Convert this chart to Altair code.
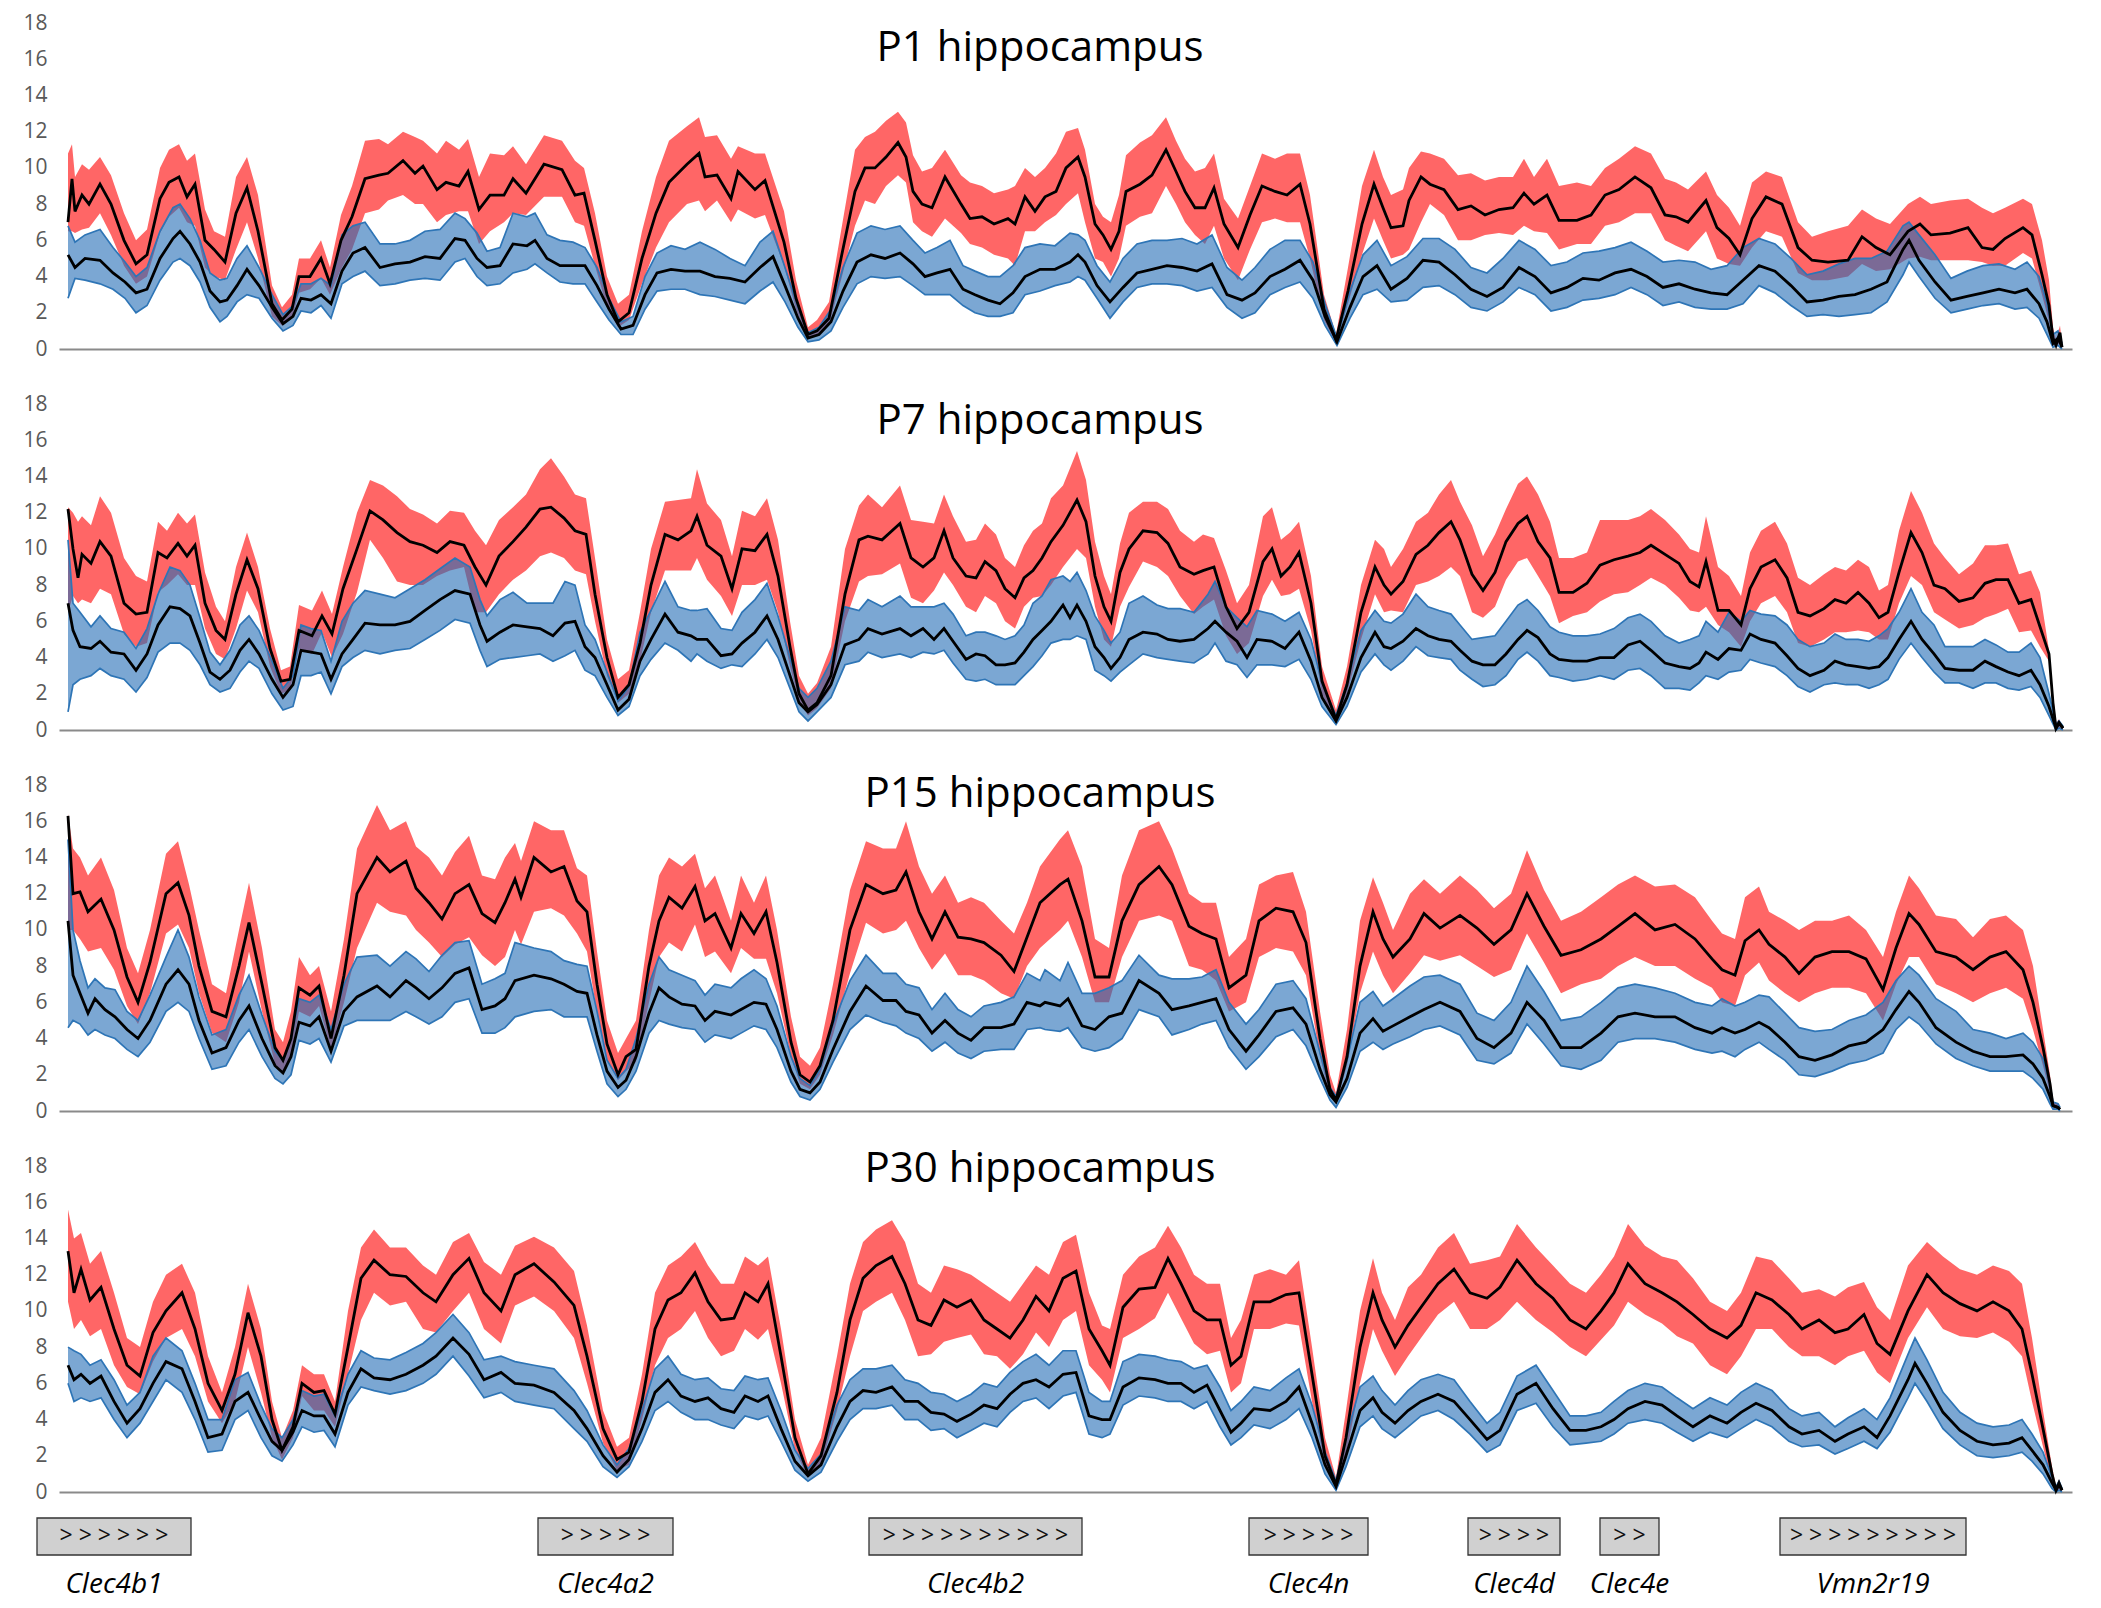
import altair as alt
import pandas as pd

TITLES = ["P1 hippocampus", "P7 hippocampus", "P15 hippocampus", "P30 hippocampus"]
Y_TICKS = [0, 2, 4, 6, 8, 10, 12, 14, 16, 18]
X_DOMAIN = [64, 2077]

# rows: (position, mean, lower, upper)
P1_RED = [(73,7.0,6.5,10.8),(77,9.4,6.5,11.3),(80,7.6,6.4,9.5),(87,8.5,6.6,10.2),(94,8.0,6.7,9.9),(105,9.1,7.5,10.6),(116,8.0,6.3,9.6),(129,6.0,4.6,7.5),(141,4.7,3.6,6.0),(152,5.2,4.0,6.6),(165,8.3,6.4,10.0),(174,9.2,7.3,11.0),(184,9.5,7.8,11.3),(192,8.4,7.0,10.4),(200,9.1,6.8,10.8),(210,6.0,4.5,7.7),(219,5.5,4.0,6.5),(230,4.8,3.8,6.2),(241,7.5,5.5,9.5),(252,8.9,7.0,10.6),(263,6.5,5.0,8.5),(277,2.5,1.8,3.5),(287,1.6,1.3,2.3),(297,2.2,1.7,3.0),(304,4.0,3.1,5.0),(315,4.0,3.3,5.0),(326,5.0,3.9,6.0),(335,3.6,3.0,4.5),(346,6.0,4.4,7.4),(357,7.3,5.5,9.0),(370,9.4,7.5,11.5),(384,9.6,7.7,11.6),(393,9.7,8.2,11.3),(408,10.4,8.5,12.0),(420,9.7,8.0,11.7),(428,10.1,8.0,11.5),(442,8.8,7.0,10.8),(451,9.2,7.4,11.5),(464,9.0,7.6,11.0),(473,9.8,7.6,11.6),(484,7.7,5.8,9.5),(495,8.5,6.5,10.8),(509,8.5,7.0,10.7),(518,9.4,7.5,11.2),(531,8.6,7.4,10.2),(549,10.2,8.4,11.8),(567,9.9,8.4,11.5),(580,8.5,7.0,10.4),(589,8.6,6.8,10.0),(600,6.0,4.6,7.5),(612,3.0,2.3,4.0),(623,1.5,1.2,2.5),(634,2.0,1.6,3.0),(647,5.0,3.6,6.5),(661,7.5,5.6,9.5),(674,9.2,7.0,11.5),(692,10.2,8.0,12.3),(704,10.8,8.2,12.8),(710,9.5,7.6,11.7),(722,9.6,8.2,11.8),(736,8.3,7.0,10.5),(743,9.8,7.7,11.2),(760,8.8,7.2,10.8),(770,9.3,7.4,10.8),(789,5.9,4.6,7.6),(801,2.8,2.2,3.8),(813,0.8,0.6,1.2),(822,1.0,0.8,1.6),(834,1.7,1.3,2.6),(846,5.0,3.8,6.5),(860,8.7,6.8,11.0),(870,10.0,8.2,11.7),(880,10.0,8.0,12.0),(891,10.6,9.0,12.6),(903,11.4,9.6,13.1),(911,10.6,9.2,12.5),(918,8.7,7.0,10.7),(927,8.0,6.5,9.8),(937,7.8,6.2,10.0),(950,9.5,7.2,11.0),(966,8.0,6.4,9.6),(975,7.2,5.8,9.2),(987,7.3,5.6,9.0),(999,6.9,5.2,8.6),(1013,7.2,5.0,8.8),(1020,6.9,4.6,9.0),(1030,8.4,6.5,10.0),(1040,7.6,6.5,9.5),(1050,8.4,7.0,10.0),(1061,8.7,7.4,10.8),(1071,10.0,8.0,12.0),(1083,10.6,8.6,12.2),(1090,9.5,7.0,11.0),(1100,6.9,5.0,8.0),(1108,6.3,4.8,7.3),(1116,5.5,4.0,7.0),(1124,6.5,5.0,8.5),(1131,8.7,6.8,10.7),(1145,9.1,7.3,11.4),(1157,9.6,7.5,11.8),(1171,11.0,9.0,12.8),(1181,9.8,8.0,11.5),(1190,8.7,7.0,10.5),(1200,7.8,6.3,9.8),(1210,7.8,5.8,10.0),(1219,8.9,6.8,10.8),(1229,6.9,5.0,8.3),(1243,5.6,3.8,7.2),(1255,7.4,5.5,9.0),(1267,9.0,7.0,10.8),(1280,8.7,7.2,10.5),(1292,8.5,7.0,10.8),(1305,9.1,7.0,10.8),(1315,6.9,5.0,8.5),(1329,2.2,1.6,3.0),(1341,0.5,0.3,0.8),(1353,3.2,2.5,4.5),(1367,6.9,5.2,9.0),(1379,9.1,7.2,11.0),(1388,7.8,6.0,9.5),(1396,6.7,5.0,8.5),(1408,6.8,5.2,8.8),(1414,8.2,5.5,10.0),(1426,9.5,7.0,10.9),(1435,9.1,8.0,10.8),(1449,8.8,7.4,10.5),(1463,7.7,6.0,9.6),(1476,7.9,6.0,9.7),(1490,7.4,6.3,9.3),(1504,7.7,6.4,9.5),(1518,7.8,6.3,9.5),(1529,8.6,6.8,10.5),(1539,8.0,6.5,9.5),(1552,8.5,6.4,10.5),(1564,7.1,5.5,9.0),(1582,7.1,5.8,9.2),(1596,7.4,5.8,9.0),(1610,8.5,6.8,10.0),(1624,8.8,7.0,10.5),(1640,9.5,7.5,11.2),(1656,8.9,7.5,10.8),(1670,7.4,6.0,9.4),(1681,7.3,5.7,9.2),(1693,7.0,5.4,8.8),(1711,8.2,6.5,9.8),(1722,6.7,5.0,8.5),(1734,6.1,4.7,7.8),(1745,5.2,4.6,6.8),(1757,7.2,5.6,9.2),(1771,8.4,6.5,9.8),(1787,8.0,6.2,9.5),(1803,5.6,4.2,7.0),(1817,4.9,3.8,6.2),(1833,4.8,3.8,6.5),(1853,4.9,4.0,6.8),(1867,6.2,4.7,7.7),(1881,5.6,4.3,7.2),(1895,5.2,4.4,6.9),(1913,6.5,5.0,8.0),(1925,6.9,5.1,8.4),(1936,6.3,4.9,8.0),(1955,6.4,4.9,8.2),(1973,6.7,4.9,8.3),(1987,5.6,4.8,7.8),(1998,5.5,4.6,7.5),(2010,6.1,4.6,7.8),(2028,6.7,5.3,8.3),(2037,6.3,5.0,8.0),(2047,4.1,3.0,6.0),(2054,2.4,1.5,3.8),(2058,0.6,0.3,1.2),(2061,0.2,0.1,0.5),(2065,0.9,0.4,1.3),(2067,0.1,0.0,0.3)]

P1_BLUE = [(73,5.2,2.8,6.8),(80,4.5,3.9,5.9),(90,5.0,3.8,6.3),(105,4.9,3.6,6.6),(118,4.2,3.3,5.6),(130,3.7,2.8,4.8),(141,3.1,2.0,4.0),(152,3.3,2.4,4.5),(165,5.0,3.8,6.5),(178,6.1,4.8,7.8),(185,6.5,5.0,8.0),(195,5.8,4.6,7.2),(205,4.8,3.7,6.0),(215,3.2,2.3,4.2),(225,2.6,1.5,3.8),(232,2.7,1.8,3.9),(242,3.5,2.6,5.0),(252,4.4,3.0,5.7),(264,3.5,2.8,4.5),(277,2.3,1.7,3.0),(288,1.4,1.0,1.9),(298,1.8,1.3,2.4),(306,2.8,2.1,3.6),(316,2.7,2.0,3.6),(326,3.0,2.4,3.9),(336,2.5,1.7,3.5),(347,4.3,3.6,6.3),(358,5.3,4.0,6.8),(370,5.6,4.3,7.0),(385,4.5,3.5,5.8),(400,4.7,3.6,5.8),(415,4.8,3.8,6.0),(430,5.1,3.9,6.5),(445,5.0,3.8,6.6),(460,6.1,4.8,7.5),(470,6.0,5.0,7.2),(482,5.0,4.0,6.4),(492,4.5,3.5,5.4),(505,4.6,3.6,5.6),(518,5.8,4.2,7.5),(532,5.7,4.4,7.3),(540,6.0,4.7,7.5),(552,5.0,4.2,6.3),(565,4.6,3.7,6.0),(578,4.6,3.6,5.9),(590,4.6,3.6,5.6),(602,3.5,2.6,4.5),(614,2.2,1.6,2.8),(626,1.1,0.8,1.5),(638,1.3,0.8,1.8),(650,3.0,2.2,4.0),(662,4.2,3.2,5.3),(676,4.4,3.3,5.7),(690,4.3,3.3,5.5),(705,4.3,3.0,5.9),(720,4.0,2.9,5.5),(735,3.9,2.7,5.0),(750,3.7,2.5,4.6),(765,4.5,3.2,5.9),(778,5.1,3.7,6.5),(790,3.5,2.6,4.5),(803,1.7,1.2,2.3),(813,0.6,0.4,0.9),(824,0.8,0.5,1.2),(836,1.5,1.0,2.2),(848,3.2,2.3,4.5),(862,4.8,3.6,6.4),(876,5.2,4.0,6.8),(890,5.0,3.9,6.6),(905,5.3,4.0,6.8),(918,4.7,3.5,6.0),(930,4.0,3.0,5.3),(942,4.2,3.0,5.6),(955,4.4,3.0,6.0),(968,3.3,2.4,4.6),(980,3.0,2.0,4.3),(993,2.7,1.8,4.0),(1005,2.5,1.8,4.0),(1018,3.1,2.0,4.6),(1030,4.0,3.0,5.6),(1045,4.4,3.2,5.8),(1060,4.4,3.5,5.7),(1075,4.8,3.7,6.4),(1083,5.2,4.0,6.3),(1090,4.8,3.8,6.0),(1102,3.5,2.8,4.6),(1115,2.6,1.7,3.7),(1128,3.4,2.6,5.0),(1142,4.2,3.4,5.8),(1157,4.4,3.6,6.0),(1172,4.6,3.6,6.0),(1187,4.5,3.5,6.1),(1202,4.3,3.2,5.8),(1217,4.7,3.4,6.3),(1232,3.0,2.3,4.5),(1247,2.7,1.7,3.8),(1260,3.1,2.0,4.5),(1275,4.0,3.0,5.5),(1290,4.4,3.4,6.0),(1305,4.9,3.7,6.0),(1318,3.8,2.8,4.8),(1330,1.8,1.3,2.5),(1342,0.4,0.2,0.6),(1355,2.3,1.7,3.2),(1368,4.0,3.0,5.2),(1382,4.6,3.3,6.0),(1396,3.3,2.6,4.6),(1412,3.9,2.7,5.1),(1428,4.9,3.4,6.1),(1444,4.8,3.5,6.1),(1460,4.1,3.0,5.5),(1476,3.3,2.3,4.5),(1492,2.9,2.1,4.2),(1508,3.4,2.6,5.0),(1524,4.5,3.4,6.0),(1540,4.0,3.0,5.5),(1556,3.1,2.1,4.6),(1572,3.4,2.3,4.8),(1588,3.9,2.7,5.3),(1604,3.8,2.8,5.4),(1620,4.2,3.0,5.6),(1636,4.4,3.4,5.9),(1652,4.0,3.0,5.4),(1668,3.4,2.4,4.8),(1684,3.6,2.6,4.9),(1700,3.3,2.3,4.8),(1716,3.1,2.2,4.4),(1732,3.0,2.2,4.6),(1748,3.8,2.5,5.6),(1764,4.6,3.5,6.1),(1780,4.3,3.1,5.8),(1796,3.5,2.4,5.0),(1812,2.6,1.8,4.1),(1828,2.7,1.9,4.3),(1844,2.9,1.8,4.7),(1860,3.0,1.9,5.0),(1876,3.3,2.0,5.0),(1892,3.7,2.6,5.4),(1908,5.5,4.1,6.8),(1914,6.0,4.8,7.0),(1924,4.9,4.0,6.3),(1940,3.7,2.8,5.2),(1956,2.7,2.0,3.9),(1972,2.9,2.2,4.3),(1988,3.1,2.4,4.6),(2004,3.3,2.5,4.7),(2020,3.1,2.2,4.4),(2032,3.3,2.3,4.8),(2044,2.5,1.7,4.0),(2052,1.5,0.8,2.5),(2058,0.3,0.1,0.8),(2063,0.6,0.2,1.0),(2067,0.1,0.0,0.3)]

P2_RED = [(73,12.2,6.5,12.3),(78,10.0,7.4,12.0),(83,8.4,7.0,11.5),(87,9.7,7.2,11.8),(96,9.2,7.0,11.3),(105,10.4,7.8,12.9),(116,9.6,7.5,12.0),(129,7.0,5.3,9.5),(141,6.4,4.6,8.5),(152,6.5,4.8,8.2),(163,9.8,7.6,11.5),(172,9.5,8.0,11.0),(183,10.3,8.6,12.0),(192,9.6,8.0,11.4),(200,10.2,8.0,11.9),(210,7.0,5.6,8.7),(221,5.5,4.2,6.8),(230,5.0,3.9,6.0),(241,7.5,5.6,9.0),(252,9.4,7.7,10.9),(263,7.8,6.5,9.0),(275,4.5,3.5,5.6),(286,2.7,2.0,3.3),(295,2.8,2.2,3.5),(304,5.5,4.5,6.9),(317,5.2,4.2,6.6),(327,6.3,5.4,7.7),(337,5.3,4.0,6.4),(348,7.8,5.3,9.0),(362,10.0,7.6,12.0),(375,12.1,10.5,13.8),(388,11.6,9.5,13.5),(402,10.9,8.2,12.9),(415,10.4,8.0,12.2),(428,10.2,8.0,11.9),(442,9.8,8.5,11.4),(455,10.4,8.8,12.1),(469,10.2,9.0,12.0),(480,9.0,6.5,11.0),(491,8.0,6.5,10.2),(504,9.6,7.5,11.6),(518,10.4,8.3,12.3),(531,11.2,8.8,13.0),(545,12.2,9.6,14.4),(556,12.3,9.8,15.0),(569,11.7,9.5,14.0),(580,11.0,8.8,13.0),(591,10.8,8.6,12.8),(600,7.5,6.0,9.5),(612,4.0,3.0,5.0),(623,1.8,1.5,2.8),(634,2.5,2.0,3.3),(645,4.8,3.8,6.5),(656,8.0,6.5,10.0),(670,10.8,8.8,12.6),(683,10.5,8.8,12.7),(696,11.0,8.8,12.8),(702,11.8,9.5,14.4),(712,10.2,8.3,12.5),(726,9.6,7.4,11.6),(737,7.8,6.3,9.6),(747,10.0,8.0,12.1),(760,9.9,8.0,11.8),(772,10.8,8.3,12.8),(783,8.5,6.5,10.5),(795,4.6,3.5,6.0),(804,2.0,1.6,3.0),(813,1.1,0.8,2.0),(822,1.5,1.2,2.6),(836,3.0,2.3,4.6),(850,7.5,6.0,10.0),(864,10.5,8.2,12.4),(873,10.7,8.5,13.0),(887,10.5,8.6,12.3),(905,11.4,9.2,13.5),(916,9.5,7.3,11.6),(928,9.0,7.0,11.5),(939,9.5,7.7,11.4),(949,11.0,8.7,13.0),(958,9.5,8.0,11.8),(971,8.5,6.8,10.4),(981,8.4,6.5,10.5),(990,9.3,7.4,11.4),(1001,8.8,7.0,10.8),(1010,7.8,6.0,9.5),(1020,7.3,5.6,9.0),(1029,8.4,6.8,10.2),(1038,8.8,7.3,11.0),(1047,9.5,7.4,11.4),(1056,10.4,8.0,12.8),(1068,11.3,9.0,13.5),(1082,12.7,10.0,15.4),(1091,11.5,9.5,13.8),(1100,8.5,6.8,10.4),(1109,6.8,5.0,8.5),(1116,6.0,4.6,7.5),(1125,8.7,6.8,10.3),(1134,10.0,7.9,12.0),(1148,11.0,9.3,12.6),(1162,10.9,9.0,12.6),(1173,10.3,8.5,12.2),(1185,9.0,7.4,11.0),(1199,8.6,6.4,10.4),(1208,8.8,6.8,10.8),(1219,9.0,7.2,10.6),(1231,6.8,5.2,8.8),(1242,5.6,4.2,7.0),(1254,6.5,4.8,8.0),(1268,9.3,7.4,11.8),(1277,10.0,8.3,12.3),(1286,8.5,7.4,10.5),(1295,9.0,7.5,10.9),(1304,9.8,7.8,11.5),(1316,7.0,5.5,8.5),(1327,2.7,2.0,3.5),(1341,0.6,0.4,1.1),(1352,2.5,2.0,3.5),(1366,6.5,5.0,8.0),(1380,9.0,7.5,10.5),(1389,8.0,6.5,10.0),(1396,7.5,6.6,9.0),(1408,8.2,6.5,10.0),(1421,9.7,8.0,11.5),(1433,10.2,8.2,12.0),(1444,10.9,8.5,13.0),(1456,11.5,9.0,13.8),(1465,10.5,8.5,12.6),(1477,8.6,6.5,11.3),(1488,7.7,6.2,9.6),(1500,8.7,6.8,10.8),(1511,10.4,8.3,12.2),(1523,11.4,9.3,13.6),(1532,11.8,9.5,14.0),(1543,10.4,8.5,13.0),(1555,9.5,7.4,11.5),(1564,7.6,5.9,9.5),(1578,7.6,6.3,9.5),(1592,8.1,6.5,9.8),(1605,9.1,7.1,11.6),(1619,9.4,7.5,11.6),(1633,9.6,7.6,11.6),(1645,9.8,8.0,11.8),(1656,10.2,8.4,12.2),(1670,9.7,8.0,11.6),(1684,9.2,7.3,10.8),(1695,8.2,6.6,10.0),(1704,7.9,6.5,9.8),(1711,9.3,6.8,11.8),(1723,6.6,5.8,9.0),(1734,6.6,5.4,8.5),(1746,5.8,4.6,7.4),(1755,7.8,6.0,9.8),(1766,9.0,7.0,11.0),(1780,9.4,7.4,11.5),(1792,8.4,6.5,10.3),(1803,6.5,4.8,8.4),(1815,6.3,4.6,8.0),(1829,6.7,5.0,8.6),(1840,7.2,5.4,9.0),(1851,7.0,5.4,8.8),(1863,7.6,5.5,9.4),(1874,7.0,5.4,9.0),(1884,6.2,5.0,7.7),(1893,6.5,5.0,8.0),(1904,8.7,7.0,11.0),(1916,10.9,8.5,13.2),(1927,9.8,8.0,12.0),(1939,8.0,6.5,10.3),(1950,7.8,6.1,9.5),(1964,7.1,5.6,8.6),(1978,7.3,5.8,9.2),(1990,8.1,6.2,10.2),(2001,8.3,6.4,10.2),(2013,8.3,6.7,10.3),(2024,7.0,5.4,8.6),(2036,7.2,5.5,8.8),(2045,5.7,4.6,7.6),(2054,4.2,3.8,4.4),(2058,1.5,1.0,2.0),(2061,0.1,0.0,0.4),(2064,0.4,0.1,0.6),(2068,0.1,0.0,0.2)]

P2_BLUE = [(73,7.0,1.0,10.5),(78,5.5,2.5,7.0),(85,4.6,2.8,6.5),(96,4.5,3.0,5.7),(105,4.9,3.4,6.3),(116,4.3,3.0,5.6),(129,4.2,2.8,5.4),(141,3.3,2.1,4.5),(152,4.2,2.9,5.6),(163,5.8,4.3,7.5),(175,6.8,4.8,9.0),(185,6.7,4.8,8.8),(195,6.3,4.4,8.0),(205,4.8,3.6,6.2),(215,3.2,2.5,4.3),(225,2.8,2.1,3.6),(235,3.3,2.3,4.4),(245,4.4,3.2,5.8),(254,5.0,3.8,6.3),(264,4.2,3.4,5.5),(277,2.8,2.0,3.8),(288,1.8,1.1,2.3),(298,2.5,1.3,3.0),(306,4.4,3.0,5.8),(316,4.3,3.0,5.6),(326,4.2,3.2,5.5),(336,2.8,2.0,3.8),(347,4.2,3.5,6.0),(358,5.0,4.0,7.0),(370,5.9,4.4,7.7),(385,5.8,4.2,7.5),(400,5.8,4.4,7.3),(415,6.0,4.5,7.8),(430,6.6,5.0,8.3),(445,7.2,5.5,8.9),(460,7.7,6.1,9.5),(475,7.5,5.9,9.0),(485,5.8,4.4,7.2),(492,4.9,3.5,6.3),(505,5.4,3.9,7.2),(518,5.8,4.0,7.6),(532,5.7,4.1,7.0),(545,5.6,4.2,7.0),(558,5.2,3.8,7.0),(570,5.9,4.1,8.2),(580,6.0,4.4,8.0),(590,4.6,3.3,5.8),(600,4.0,3.0,5.0),(612,2.5,1.8,3.2),(623,1.1,0.8,1.6),(634,1.7,1.3,2.4),(645,3.8,3.0,5.4),(656,5.0,3.9,6.6),(670,6.4,4.8,8.2),(683,5.4,4.4,6.8),(696,5.2,3.8,6.6),(702,5.0,4.2,6.6),(712,5.0,3.8,6.7),(726,4.1,3.4,5.6),(737,4.2,3.6,5.5),(747,4.8,3.5,6.5),(760,5.4,4.2,7.2),(772,6.3,5.0,8.1),(783,5.0,4.0,6.3),(795,3.0,2.3,4.0),(804,1.5,1.0,2.3),(813,1.0,0.5,1.8),(822,1.4,1.0,2.3),(836,2.5,1.8,3.8),(850,4.7,3.6,6.8),(864,5.0,3.8,6.6),(873,5.6,4.3,7.2),(887,5.3,4.0,6.8),(905,5.6,4.2,7.4),(916,5.2,4.0,6.8),(928,5.6,4.3,6.8),(939,5.0,4.2,6.8),(949,5.6,4.4,7.0),(958,4.9,3.7,6.4),(971,3.9,2.8,5.2),(981,4.2,2.7,5.4),(990,4.1,2.8,5.4),(1001,3.6,2.5,5.2),(1010,3.6,2.5,5.0),(1020,3.7,2.5,5.2),(1029,4.3,3.0,5.8),(1038,5.0,3.5,7.0),(1047,5.5,4.1,7.4),(1056,6.0,4.8,8.3),(1068,6.9,5.0,8.5),(1075,6.2,5.0,8.2),(1082,6.9,5.2,8.7),(1091,6.0,5.0,7.7),(1100,4.6,3.3,6.3),(1109,4.0,3.0,5.5),(1116,3.4,2.7,4.8),(1125,4.0,3.2,5.4),(1134,5.0,3.6,7.0),(1148,5.4,4.2,7.4),(1162,5.3,4.0,6.9),(1173,5.0,3.9,6.7),(1185,4.9,3.8,6.7),(1199,5.0,3.7,6.5),(1213,5.6,4.2,7.5),(1220,6.0,4.8,8.2),(1231,5.4,3.8,6.8),(1242,4.9,3.6,6.2),(1252,4.0,2.9,5.7),(1262,5.0,3.6,6.6),(1277,4.9,3.6,6.4),(1290,4.5,3.5,6.0),(1304,5.4,3.9,6.5),(1316,3.8,2.8,5.0),(1327,1.8,1.3,2.6),(1341,0.5,0.3,0.8),(1352,1.8,1.3,2.6),(1366,4.0,3.2,5.5),(1380,5.4,4.2,6.6),(1389,4.6,3.6,6.0),(1396,4.5,3.3,5.9),(1408,4.9,3.8,6.4),(1421,5.6,4.6,7.5),(1433,5.2,4.1,6.8),(1444,5.0,4.0,6.6),(1456,4.9,3.9,6.4),(1465,4.4,3.3,5.8),(1477,3.8,2.8,5.0),(1488,3.6,2.4,5.1),(1500,3.6,2.5,5.2),(1511,4.2,3.0,6.0),(1523,5.0,3.9,6.9),(1532,5.5,4.3,7.2),(1543,5.1,3.8,6.6),(1555,4.2,3.0,5.7),(1564,3.9,2.9,5.4),(1578,3.8,2.7,5.2),(1592,3.8,2.8,5.2),(1605,4.0,3.0,5.3),(1619,4.0,2.8,5.6),(1633,4.7,3.3,6.2),(1645,4.9,3.4,6.4),(1656,4.4,3.0,6.0),(1670,3.7,2.3,5.2),(1684,3.5,2.3,4.8),(1695,3.4,2.2,5.0),(1704,3.7,2.6,5.2),(1711,4.3,3.0,6.0),(1723,3.9,2.8,5.4),(1734,4.5,3.2,6.5),(1746,4.4,3.3,6.0),(1755,5.3,3.9,6.6),(1766,5.0,3.7,6.4),(1780,4.8,3.5,6.3),(1792,4.1,3.0,5.8),(1803,3.4,2.4,5.0),(1815,3.0,2.1,4.6),(1829,3.3,2.5,4.8),(1840,3.8,2.6,5.3),(1851,3.6,2.5,5.0),(1863,3.5,2.5,5.0),(1874,3.4,2.3,4.9),(1884,3.5,2.5,5.2),(1893,4.0,2.8,5.6),(1904,5.0,3.9,6.5),(1916,6.0,4.8,7.8),(1927,5.0,4.0,6.5),(1939,4.2,3.2,5.8),(1950,3.4,2.6,4.6),(1964,3.3,2.6,4.6),(1978,3.3,2.3,4.6),(1990,3.8,2.6,5.0),(2001,3.5,2.6,4.7),(2013,3.2,2.3,4.3),(2024,3.0,2.2,4.3),(2036,3.3,2.4,4.8),(2045,2.5,1.8,4.0),(2054,1.3,0.8,2.0),(2061,0.1,0.0,0.3),(2064,0.4,0.1,0.5),(2068,0.1,0.0,0.2)]

P3_RED = [(73,16.3,10.0,16.4),(78,12.0,10.0,14.5),(85,12.1,9.5,14.0),(93,11.0,8.8,13.0),(106,11.7,9.0,14.0),(119,10.0,7.8,12.2),(132,7.4,5.8,9.0),(143,6.0,4.8,7.6),(155,8.2,6.5,10.0),(171,12.0,9.8,14.2),(183,12.6,10.3,14.9),(194,10.8,9.0,12.5),(204,8.0,6.5,10.0),(217,5.5,4.3,7.0),(231,5.2,3.8,6.5),(244,8.0,6.0,10.0),(254,10.4,8.8,12.6),(267,7.0,5.5,9.0),(280,3.5,2.6,4.5),(288,2.8,2.2,3.8),(296,4.0,3.0,5.5),(304,6.8,5.5,8.5),(315,6.4,5.2,7.5),(324,6.9,5.8,8.0),(336,4.0,3.4,5.5),(349,7.5,6.0,9.5),(362,12.0,9.0,14.5),(382,14.0,11.5,16.9),(395,13.2,11.0,15.5),(411,13.8,10.8,16.0),(421,12.3,10.0,14.6),(434,11.5,9.3,14.0),(447,10.6,8.5,13.0),(460,12.0,9.2,14.3),(474,12.5,9.6,15.2),(487,10.9,8.6,13.0),(500,10.4,8.0,12.8),(510,11.5,8.5,14.0),(520,12.8,10.0,14.8),(526,11.8,9.2,13.8),(539,14.0,11.0,16.0),(556,13.2,11.2,15.5),(569,13.5,10.8,15.5),(582,11.6,9.8,13.4),(592,11.0,8.8,13.0),(602,7.0,5.4,8.8),(612,3.7,2.8,5.0),(623,2.0,1.7,3.2),(631,3.0,2.2,4.0),(641,3.4,2.7,5.0),(654,8.0,6.0,10.0),(664,10.5,8.5,13.0),(674,11.8,9.3,14.0),(687,11.2,8.8,13.5),(700,12.4,10.3,14.2),(710,10.5,8.5,12.3),(720,10.9,8.8,13.0),(736,9.0,7.6,10.5),(746,10.9,9.0,13.0),(759,9.8,8.4,11.5),(771,11.0,8.4,13.0),(782,8.2,6.5,10.0),(796,3.8,3.0,5.2),(805,2.0,1.5,3.0),(815,1.6,1.2,2.5),(825,2.5,2.0,3.5),(838,5.0,4.2,7.0),(855,10.0,7.6,12.2),(871,12.5,10.4,14.9),(888,12.0,9.8,14.5),(901,12.2,10.0,14.5),(911,13.2,10.5,16.0),(924,11.0,9.0,13.5),(937,9.5,7.8,12.0),(950,11.0,8.7,13.0),(963,9.6,7.5,11.5),(976,9.5,7.5,11.8),(989,9.3,7.2,11.5),(1006,8.6,6.5,10.5),(1019,7.7,6.2,9.8),(1032,9.6,8.0,11.5),(1045,11.5,9.0,13.5),(1065,12.5,10.0,15.0),(1073,12.8,10.5,15.5),(1087,10.5,8.5,13.5),(1100,7.4,6.0,9.5),(1114,7.4,6.0,9.0),(1127,10.5,8.5,13.0),(1144,12.5,10.5,15.5),(1164,13.5,10.8,16.0),(1177,12.5,10.5,14.5),(1194,10.2,8.0,12.0),(1207,9.8,7.8,11.5),(1221,9.5,7.2,11.5),(1234,6.8,5.5,8.5),(1251,7.5,6.0,9.5),(1264,10.5,8.5,12.5),(1281,11.2,9.0,13.0),(1298,11.0,8.8,13.2),(1311,9.3,7.5,11.0),(1325,4.0,3.0,5.5),(1335,1.2,0.8,2.0),(1341,0.6,0.4,1.0),(1352,3.0,2.5,4.5),(1365,8.0,6.5,10.5),(1378,11.0,8.8,12.9),(1388,9.5,7.5,11.5),(1398,8.5,6.5,10.0),(1415,9.5,7.6,12.0),(1429,10.9,8.6,12.8),(1445,10.1,8.3,12.0),(1465,10.8,8.6,13.0),(1482,10.1,8.0,12.2),(1499,9.2,7.4,11.2),(1516,10.0,7.8,12.0),(1532,12.0,9.8,14.4),(1549,10.2,8.2,12.2),(1566,8.6,6.5,10.5),(1586,8.9,7.0,11.0),(1606,9.5,7.3,11.8),(1623,10.2,8.0,12.5),(1640,10.9,8.5,13.0),(1660,10.0,8.0,12.4),(1680,10.3,8.0,12.5),(1700,9.5,7.3,11.8),(1717,8.4,6.8,10.5),(1727,7.8,6.0,9.8),(1740,7.5,5.8,9.5),(1750,9.4,7.5,11.8),(1764,10.0,8.2,12.4),(1774,9.2,7.2,11.0),(1790,8.5,6.5,10.5),(1804,7.6,6.0,10.0),(1820,8.5,6.5,10.5),(1837,8.8,6.8,10.5),(1854,8.8,6.8,10.8),(1871,8.4,6.5,10.0),(1888,6.7,5.0,8.5),(1901,9.0,7.0,11.0),(1914,10.9,8.5,13.0),(1924,10.3,8.5,12.3),(1941,8.8,7.0,10.8),(1961,8.5,6.5,10.6),(1978,7.8,6.0,9.6),(1995,8.5,6.5,10.6),(2011,8.8,6.8,10.8),(2028,7.8,6.2,10.0),(2038,6.0,4.5,8.0),(2048,3.5,2.5,4.5),(2055,1.5,1.0,2.0),(2058,0.3,0.1,0.5),(2063,0.2,0.1,0.4),(2065,0.1,0.0,0.2)]

P3_BLUE = [(73,10.5,4.6,15.0),(78,7.5,5.0,10.0),(85,6.5,4.8,8.3),(93,5.4,4.2,6.8),(100,6.2,4.5,7.3),(110,5.6,4.2,6.8),(120,5.2,4.0,6.7),(132,4.5,3.4,5.5),(143,4.0,3.0,5.0),(155,5.0,3.8,6.4),(171,7.0,5.5,8.5),(183,7.8,6.0,10.0),(194,7.0,5.5,8.5),(204,5.0,4.0,6.3),(217,3.2,2.3,4.2),(231,3.5,2.5,4.5),(244,5.0,3.8,6.4),(254,5.8,4.5,7.5),(267,4.0,3.0,5.3),(280,2.5,1.8,3.3),(288,2.1,1.5,2.8),(296,3.0,2.0,4.0),(304,4.9,3.9,6.2),(315,4.7,3.7,6.0),(324,5.2,4.0,6.4),(336,3.3,2.7,4.5),(349,5.5,4.7,7.0),(362,6.3,5.0,8.5),(382,6.9,5.0,8.6),(395,6.3,5.0,8.0),(411,7.2,5.5,8.8),(421,6.8,5.2,8.4),(434,6.2,4.8,7.7),(447,6.8,5.2,8.6),(460,7.6,6.0,9.3),(474,7.9,6.2,9.4),(487,5.6,4.3,7.0),(500,5.8,4.3,7.3),(510,6.2,4.6,7.6),(520,7.2,5.2,9.3),(539,7.5,5.5,9.0),(556,7.3,5.6,8.8),(569,7.0,5.2,8.3),(582,6.6,5.2,8.1),(592,6.5,5.2,8.0),(602,4.2,3.3,5.5),(612,2.2,1.5,2.8),(623,1.3,0.8,1.8),(631,1.7,1.2,2.3),(641,3.0,2.2,4.0),(654,5.4,4.3,7.0),(664,6.8,5.0,8.5),(674,6.3,4.8,7.8),(687,5.9,4.6,7.5),(700,5.8,4.5,7.2),(710,5.0,3.8,6.4),(720,5.5,4.2,7.0),(736,5.3,4.0,6.8),(746,5.6,4.3,7.3),(759,6.0,4.7,7.8),(771,5.9,4.5,7.3),(782,4.5,3.5,5.8),(796,2.2,1.6,3.0),(805,1.2,0.8,1.8),(815,1.0,0.6,1.4),(825,1.6,1.2,2.3),(838,3.4,2.7,4.8),(855,5.5,4.5,7.2),(871,6.9,5.3,8.6),(888,6.1,4.9,7.6),(901,6.1,4.7,7.6),(911,5.5,4.3,7.0),(924,5.3,4.0,6.8),(937,4.3,3.3,5.6),(950,5.0,3.8,6.5),(963,4.3,3.2,5.6),(976,3.9,2.9,5.2),(989,4.6,3.3,5.8),(1006,4.6,3.4,6.0),(1019,4.8,3.4,6.3),(1032,6.0,4.5,7.6),(1045,5.8,4.6,7.2),(1050,6.0,4.5,7.8),(1065,5.8,4.4,7.2),(1073,6.2,4.6,8.2),(1087,4.7,3.5,6.5),(1100,4.5,3.3,6.5),(1114,5.2,3.5,6.8),(1127,5.4,4.0,7.2),(1144,7.2,5.6,8.6),(1164,6.5,5.2,7.5),(1177,5.6,4.2,7.3),(1194,5.8,4.5,7.3),(1207,6.0,4.8,7.4),(1221,6.2,5.0,7.8),(1234,4.5,3.5,6.0),(1251,3.3,2.3,4.8),(1264,4.2,3.0,5.6),(1281,5.5,4.1,7.0),(1298,5.7,4.5,7.2),(1311,4.8,3.6,6.2),(1325,2.3,1.8,3.2),(1335,0.9,0.6,1.3),(1341,0.5,0.2,0.8),(1352,1.8,1.3,2.8),(1365,4.3,3.3,6.0),(1378,5.1,3.8,6.6),(1388,4.4,3.4,5.8),(1398,4.7,3.7,6.2),(1415,5.2,4.1,6.9),(1429,5.6,4.5,7.4),(1445,6.0,4.7,7.5),(1465,5.5,4.2,7.0),(1482,4.0,2.8,5.4),(1499,3.5,2.6,5.0),(1516,4.3,3.2,6.0),(1532,6.0,4.8,8.0),(1549,5.0,3.7,6.6),(1566,3.5,2.5,5.0),(1586,3.5,2.3,5.2),(1606,4.3,2.8,6.0),(1623,5.2,3.8,6.8),(1640,5.4,4.0,7.0),(1660,5.2,4.0,6.8),(1680,5.2,3.8,6.5),(1700,4.6,3.4,6.0),(1717,4.3,3.2,5.8),(1727,4.6,3.3,6.2),(1740,4.3,3.0,5.8),(1750,4.5,3.4,6.0),(1764,4.9,3.8,6.4),(1774,4.6,3.4,6.3),(1790,3.8,2.8,5.4),(1804,3.0,2.0,4.6),(1820,2.8,1.9,4.4),(1837,3.1,2.2,4.5),(1854,3.6,2.6,5.0),(1871,3.8,2.8,5.3),(1888,4.5,3.2,6.0),(1901,5.6,4.5,7.2),(1914,6.6,5.2,8.0),(1924,6.0,4.8,7.5),(1941,4.6,3.7,6.2),(1961,3.8,2.9,5.5),(1978,3.3,2.5,4.5),(1995,3.0,2.2,4.3),(2011,3.0,2.2,4.0),(2028,3.1,2.2,4.3),(2038,2.6,1.8,3.8),(2048,1.8,1.2,2.9),(2055,0.8,0.4,1.4),(2058,0.3,0.1,0.5),(2063,0.2,0.1,0.4),(2065,0.1,0.0,0.2)]

P4_RED = [(73,13.3,10.5,15.6),(79,11.0,9.0,14.0),(86,12.3,9.5,14.3),(95,10.6,8.6,12.6),(106,11.3,9.0,13.3),(119,9.0,7.0,11.0),(132,7.0,5.8,8.5),(145,6.4,5.4,8.0),(158,8.8,7.2,10.5),(171,10.0,8.5,12.0),(187,11.0,9.0,12.6),(200,9.0,7.5,11.0),(213,6.0,5.0,7.5),(227,4.5,3.8,5.5),(240,6.5,5.0,8.0),(253,9.9,8.0,11.5),(266,7.5,5.5,9.0),(277,4.0,3.0,5.0),(287,2.3,1.8,3.0),(298,3.6,3.0,4.5),(307,6.0,5.3,7.0),(319,5.5,4.5,6.5),(329,5.6,4.5,6.5),(340,4.3,3.6,5.0),(353,8.0,6.5,10.0),(366,11.8,9.5,13.5),(379,12.8,11.0,14.5),(395,12.0,10.3,13.5),(411,11.9,10.5,13.5),(428,11.0,9.0,12.5),(441,10.5,8.8,12.0),(458,12.0,10.0,13.8),(474,12.9,11.0,14.3),(489,11.0,9.0,12.7),(506,10.0,8.2,12.0),(520,12.0,10.3,13.6),(539,12.6,10.8,14.1),(559,11.6,10.0,13.5),(579,10.3,8.5,12.2),(592,7.5,6.0,9.2),(608,3.5,2.7,4.5),(622,1.8,1.2,2.5),(634,2.2,1.5,3.0),(647,5.0,4.0,6.5),(660,9.0,7.0,11.0),(673,10.6,8.5,12.5),(686,11.0,9.0,13.0),(700,12.1,10.0,13.8),(713,10.5,8.5,12.5),(726,9.5,7.5,11.5),(739,9.6,7.8,11.5),(750,11.0,9.0,13.0),(763,10.5,8.4,12.5),(773,11.5,9.0,13.0),(786,7.5,6.0,9.0),(800,3.0,2.3,4.0),(813,1.0,0.8,1.5),(826,2.0,1.5,3.0),(842,5.5,4.5,7.5),(855,9.5,7.5,11.5),(868,11.8,10.0,13.8),(881,12.5,10.5,14.5),(897,13.0,11.0,15.0),(910,11.5,9.5,13.8),(923,9.5,7.5,11.5),(936,9.2,7.6,11.0),(949,10.6,8.3,12.5),(962,10.2,8.5,12.3),(976,10.6,8.7,12.0),(989,9.5,7.6,11.5),(1002,9.0,7.5,11.0),(1015,8.5,6.8,10.5),(1028,9.5,7.6,11.5),(1041,10.8,8.8,12.5),(1054,10.0,8.0,12.0),(1068,11.8,9.5,13.8),(1081,12.2,10.0,14.2),(1094,9.0,7.0,11.0),(1107,7.8,6.2,9.2),(1115,7.0,5.5,9.0),(1128,10.2,8.5,12.0),(1144,11.2,9.0,13.0),(1160,11.3,9.6,13.5),(1173,12.9,11.0,14.7),(1186,11.5,9.6,13.5),(1199,10.0,8.2,12.0),(1212,9.5,7.6,11.5),(1225,9.5,7.8,11.5),(1236,7.0,5.5,8.5),(1246,7.5,6.0,9.5),(1259,10.5,9.0,12.0),(1275,10.5,9.0,12.3),(1291,10.9,9.3,12.0),(1304,11.0,9.2,12.8),(1317,6.5,5.0,8.0),(1330,2.0,1.5,3.0),(1341,0.4,0.2,0.8),(1351,3.0,2.0,4.5),(1365,8.0,6.0,10.0),(1378,11.0,9.0,12.9),(1387,9.5,7.8,11.0),(1400,8.0,6.4,9.5),(1413,9.2,7.5,11.3),(1426,10.2,8.5,12.0),(1443,11.5,9.8,13.5),(1459,12.3,10.5,14.3),(1475,11.0,9.0,12.6),(1492,10.7,9.0,12.8),(1505,11.3,9.5,13.0),(1522,12.8,10.5,14.8),(1541,11.5,9.5,13.5),(1558,10.7,8.8,12.5),(1575,9.5,8.0,11.5),(1591,9.0,7.5,11.0),(1606,10.0,8.4,12.0),(1619,11.0,9.2,13.0),(1633,12.6,10.5,14.8),(1650,11.5,9.8,13.6),(1667,11.0,9.3,13.0),(1682,10.5,8.6,12.8),(1698,9.8,8.2,11.8),(1715,9.0,7.0,10.5),(1732,8.5,6.5,10.0),(1746,9.2,7.5,11.0),(1761,11.0,9.0,13.0),(1777,10.6,9.0,12.8),(1794,9.8,8.0,11.8),(1807,9.0,7.5,11.0),(1824,9.5,7.5,11.2),(1840,8.8,7.0,10.8),(1853,9.0,7.5,11.3),(1869,9.8,7.8,11.6),(1882,8.2,6.6,10.2),(1895,7.6,6.0,9.5),(1913,10.0,8.5,12.5),(1932,12.0,10.2,13.8),(1948,11.0,9.0,13.0),(1965,10.4,8.6,12.3),(1982,10.0,8.5,12.0),(1998,10.5,8.8,12.5),(2014,10.0,8.3,12.2),(2027,9.0,7.5,11.5),(2037,6.5,5.0,8.5),(2048,3.5,2.5,4.5),(2057,1.0,0.5,1.4),(2061,0.1,0.0,0.3),(2064,0.5,0.1,0.7),(2067,0.1,0.0,0.2)]

P4_BLUE = [(73,7.0,6.0,8.0),(79,6.2,5.0,7.8),(86,6.5,5.2,7.6),(95,6.0,5.0,7.0),(106,6.4,5.2,7.3),(119,5.0,4.0,6.2),(132,3.8,3.0,4.8),(145,4.6,3.8,5.5),(158,6.0,5.0,7.5),(171,7.2,6.2,8.5),(187,6.8,5.5,7.8),(200,5.0,4.0,6.0),(213,3.0,2.2,4.0),(227,3.2,2.3,4.0),(240,5.0,4.0,6.2),(253,5.5,4.5,6.6),(266,4.0,3.0,4.8),(277,2.8,2.0,3.5),(287,2.3,1.7,3.0),(298,3.3,2.6,4.0),(307,4.5,3.6,5.6),(319,4.2,3.3,5.3),(329,4.2,3.4,5.4),(340,3.2,2.5,4.2),(353,5.5,4.8,6.5),(366,6.8,5.8,7.8),(379,6.3,5.6,7.4),(395,6.2,5.4,7.3),(411,6.5,5.6,7.7),(428,7.0,6.0,8.2),(441,7.5,6.5,8.8),(458,8.5,7.5,9.8),(474,7.6,6.4,8.8),(489,6.2,5.2,7.3),(506,6.6,5.5,7.5),(520,6.0,5.0,7.2),(539,5.9,4.8,7.0),(559,5.5,4.6,6.8),(579,4.5,3.5,5.6),(592,3.5,2.8,4.5),(608,2.0,1.4,2.6),(622,1.1,0.8,1.5),(634,1.8,1.4,2.4),(647,3.5,2.8,4.5),(660,5.5,4.5,6.8),(673,6.2,5.0,7.5),(686,5.3,4.4,6.5),(700,5.0,4.0,6.2),(713,5.2,4.0,6.3),(726,4.6,3.7,5.7),(739,4.4,3.5,5.6),(750,5.3,4.2,6.4),(763,5.0,4.0,6.2),(773,5.3,4.2,6.3),(786,3.5,2.8,4.5),(800,1.7,1.2,2.3),(813,0.9,0.6,1.3),(826,1.5,1.1,2.1),(842,3.6,2.8,4.8),(855,5.0,4.0,6.2),(868,5.6,4.6,6.8),(881,5.5,4.6,6.8),(897,5.8,4.8,7.0),(910,5.0,4.0,6.2),(923,5.0,4.0,6.0),(936,4.4,3.4,5.5),(949,4.3,3.5,5.4),(962,3.9,3.0,5.0),(976,4.3,3.4,5.4),(989,4.8,3.8,6.0),(1002,4.6,3.6,5.8),(1015,5.4,4.4,6.6),(1028,6.0,5.0,7.2),(1041,6.2,5.2,7.6),(1054,5.8,4.6,7.0),(1068,6.5,5.3,7.8),(1081,6.6,5.5,7.8),(1094,4.2,3.2,5.5),(1107,4.0,3.0,5.0),(1115,4.0,3.2,5.0),(1128,5.8,4.8,7.2),(1144,6.3,5.3,7.6),(1160,6.2,5.2,7.5),(1173,6.0,5.0,7.3),(1186,6.0,5.0,7.2),(1199,5.5,4.6,6.8),(1212,5.9,5.0,7.0),(1225,4.5,3.6,5.8),(1236,3.3,2.6,4.5),(1246,3.8,3.0,5.0),(1259,4.6,3.7,5.8),(1275,4.5,3.5,5.6),(1291,5.0,4.0,6.3),(1304,5.8,4.6,6.8),(1317,3.8,3.0,4.8),(1330,1.5,1.0,2.2),(1341,0.3,0.1,0.6),(1351,2.0,1.4,3.0),(1365,4.5,3.6,5.8),(1378,5.2,4.2,6.4),(1387,4.4,3.5,5.6),(1400,3.8,3.0,4.8),(1413,4.5,3.6,5.6),(1426,5.0,4.2,6.2),(1443,5.4,4.5,6.5),(1459,5.0,4.0,6.2),(1475,4.0,3.2,5.0),(1492,2.9,2.2,3.8),(1505,3.4,2.6,4.4),(1522,5.4,4.5,6.4),(1541,6.0,4.9,7.0),(1558,4.6,3.6,5.6),(1575,3.4,2.6,4.2),(1591,3.4,2.7,4.2),(1606,3.6,2.8,4.4),(1619,4.0,3.2,5.0),(1633,4.6,3.8,5.6),(1650,5.0,4.0,6.0),(1667,4.8,3.8,5.8),(1682,4.2,3.3,5.2),(1698,3.6,2.8,4.6),(1715,4.2,3.3,5.2),(1732,3.8,3.0,4.8),(1746,4.4,3.5,5.5),(1761,4.9,4.0,6.0),(1777,4.5,3.6,5.6),(1794,3.6,2.8,4.6),(1807,3.2,2.5,4.2),(1824,3.4,2.6,4.4),(1840,2.8,2.1,3.6),(1853,3.2,2.4,4.1),(1869,3.6,2.8,4.6),(1882,3.0,2.4,4.0),(1895,4.2,3.3,5.2),(1913,6.2,5.2,7.6),(1920,7.1,6.0,8.5),(1932,6.0,5.0,7.3),(1948,4.4,3.5,5.5),(1965,3.4,2.6,4.4),(1982,2.8,2.0,3.8),(1998,2.6,1.9,3.6),(2014,2.7,2.0,3.7),(2027,3.0,2.2,4.0),(2037,2.3,1.7,3.2),(2048,1.5,1.0,2.2),(2057,0.5,0.2,0.8),(2061,0.1,0.0,0.3),(2064,0.4,0.1,0.6),(2067,0.1,0.0,0.2)]

GENE_NAMES = ["Clec4b1", "Clec4a2", "Clec4b2", "Clec4n", "Clec4d", "Clec4e", "Vmn2r19"]
GENE_START = [42, 543, 874, 1254, 1473, 1605, 1785]
GENE_END = [196, 678, 1087, 1373, 1565, 1664, 1971]
GENE_ARROWS = [6, 5, 10, 5, 4, 2, 9]

PANELS = [(P1_RED, P1_BLUE), (P2_RED, P2_BLUE), (P3_RED, P3_BLUE), (P4_RED, P4_BLUE)]
TITLE_Y = [25, 17, 9, 3]

PLOT_W = 2013
PLOT_H = 326
LABEL_FONT = "Open Sans, Noto Sans, sans-serif"
TITLE_FONT = "Open Sans, Noto Sans, sans-serif"

x_axis = alt.Axis(labels=False, ticks=False, grid=False, title=None,
                  domainColor="#8a8a8a", domainWidth=2)
y_axis = alt.Axis(values=Y_TICKS, grid=False, ticks=False, domain=False, title=None,
                  labelColor="#595959", labelFontSize=21, labelFont=LABEL_FONT,
                  labelPadding=12)
x_scale = alt.Scale(domain=X_DOMAIN, nice=False, zero=False)
y_scale = alt.Scale(domain=[0, 18], nice=False)


def panel(red, blue, title, title_y):
    cols = ["pos", "mean", "lo", "hi"]
    dr = pd.DataFrame(red, columns=cols)
    db = pd.DataFrame(blue, columns=cols)
    X = alt.X("pos:Q", scale=x_scale, axis=x_axis)

    def Y(f):
        return alt.Y(f + ":Q", scale=y_scale, axis=y_axis)

    red_band = alt.Chart(dr).mark_area(color="#FF6666", opacity=1).encode(
        x=X, y=Y("lo"), y2="hi:Q")
    blue_band = alt.Chart(db).mark_area(color="#236CB6", opacity=0.6).encode(
        x=X, y=Y("lo"), y2="hi:Q")
    blue_lo = alt.Chart(db).mark_line(color="#2E75B6", strokeWidth=1.7).encode(x=X, y=Y("lo"))
    blue_hi = alt.Chart(db).mark_line(color="#2E75B6", strokeWidth=1.7).encode(x=X, y=Y("hi"))
    red_mean = alt.Chart(dr).mark_line(color="#000000", strokeWidth=2.8).encode(x=X, y=Y("mean"))
    blue_mean = alt.Chart(db).mark_line(color="#000000", strokeWidth=2.8).encode(x=X, y=Y("mean"))
    ttl = alt.Chart(alt.Data(values=[{"t": title}])).mark_text(
        font=TITLE_FONT, fontSize=42, color="#000000", baseline="middle", align="center"
    ).encode(text="t:N", x=alt.value(981), y=alt.value(title_y))
    return alt.layer(red_band, blue_band, blue_lo, blue_hi, red_mean, blue_mean, ttl).properties(
        width=PLOT_W, height=PLOT_H)


panels = [panel(r, b, t, ty) for (r, b), t, ty in zip(PANELS, TITLES, TITLE_Y)]

genes = pd.DataFrame({
    "name": GENE_NAMES,
    "start": GENE_START,
    "end": GENE_END,
    "arrows": [" ".join([">"] * n) for n in GENE_ARROWS],
})
gx_scale = alt.Scale(domain=X_DOMAIN, nice=False, zero=False)
base = alt.Chart(genes).transform_calculate(mid="(datum.start + datum.end) / 2")
# gene track sits 55 px below the last panel; its marks reach back up into that gap
boxes = base.mark_rect(fill="#D0D0D0", stroke="#333333", strokeWidth=1.3).encode(
    x=alt.X("start:Q", scale=gx_scale, axis=None), x2="end:Q",
    y=alt.value(-29), y2=alt.value(8))
arrows = base.mark_text(font="Open Sans", fontSize=23, color="#111111", baseline="middle").encode(
    x=alt.X("mid:Q", scale=gx_scale, axis=None), y=alt.value(-11), text="arrows:N")
labels = base.mark_text(font=LABEL_FONT, fontSize=28, fontStyle="italic", color="#000000",
                        baseline="middle").encode(
    x=alt.X("mid:Q", scale=gx_scale, axis=None), y=alt.value(38), text="name:N")
gene_track = alt.layer(boxes, arrows, labels).properties(width=PLOT_W, height=55)

chart = alt.vconcat(*panels, gene_track, spacing=55, bounds="flush").properties(
    padding={"left": 22, "top": 12, "right": 5, "bottom": 0}
).configure_view(strokeWidth=0)

chart.save("out.html", embed_options={"renderer": "svg", "actions": False})
